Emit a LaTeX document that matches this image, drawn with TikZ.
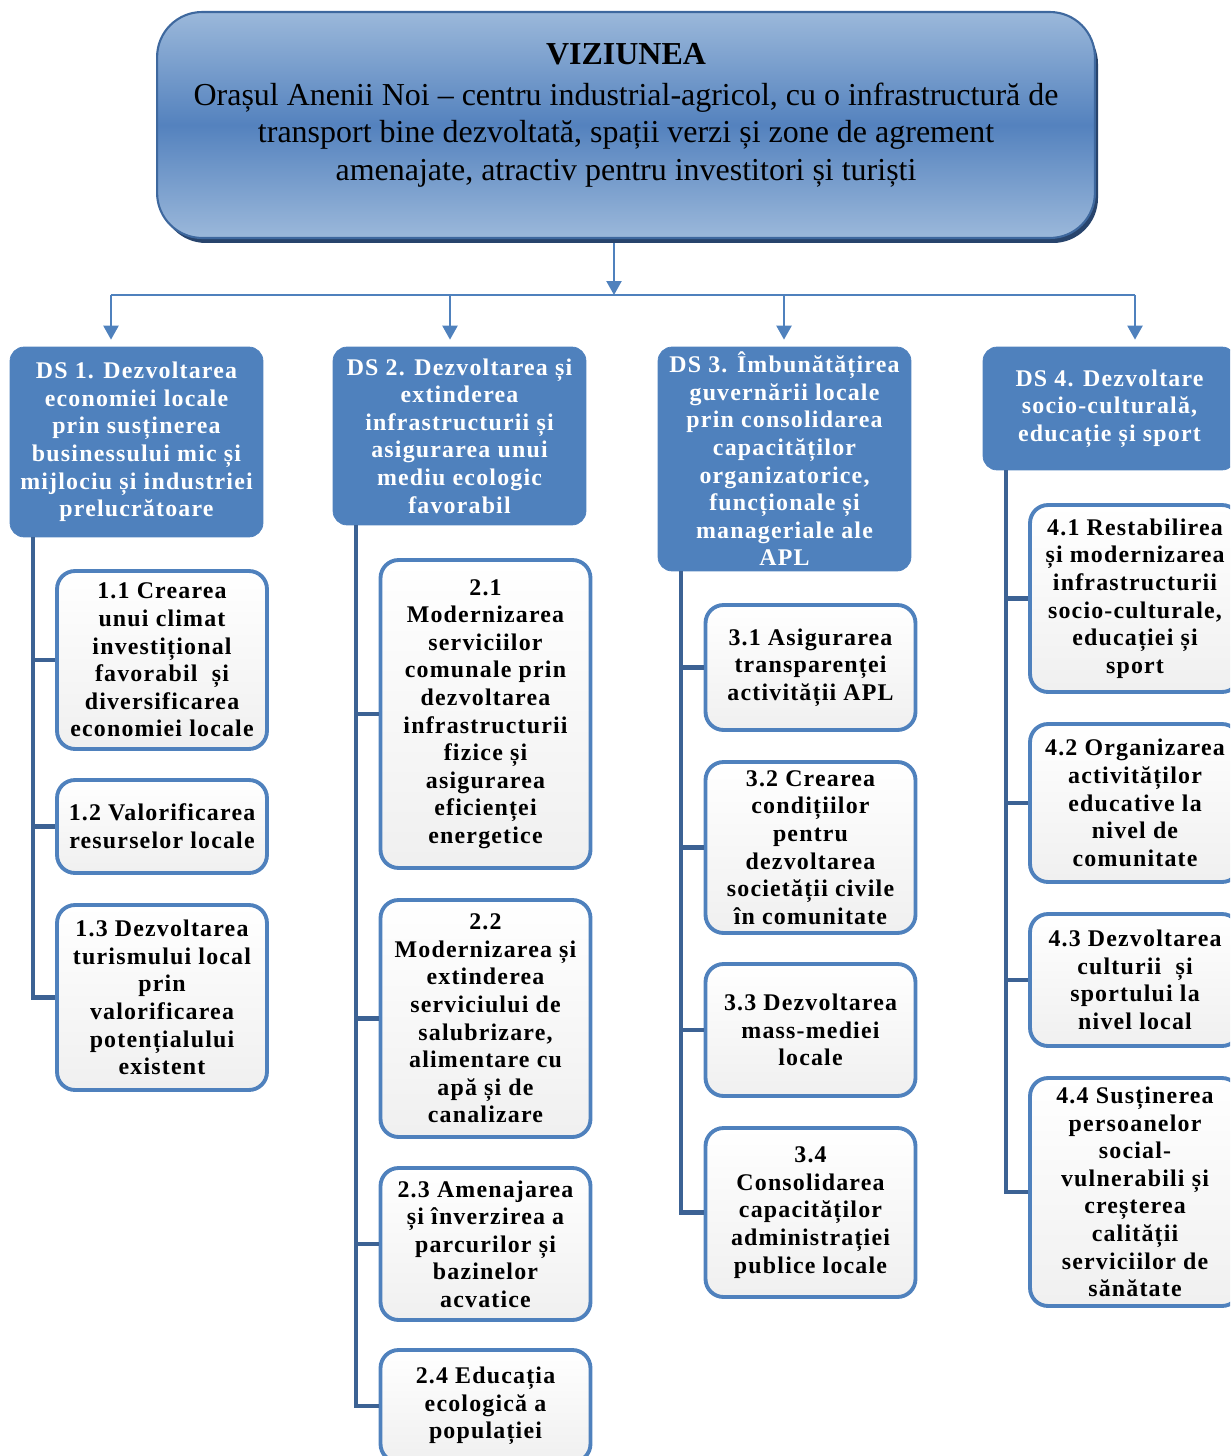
\documentclass[tikz,border=0pt]{standalone}
\usepackage{fontspec}
\setmainfont{Liberation Serif}
\newfontfamily\boxfont[LetterSpace=5]{Liberation Serif}
\usetikzlibrary{arrows.meta,positioning}
\definecolor{Steel}{RGB}{79,129,189}
\definecolor{Trunk}{RGB}{60,98,148}
\definecolor{Sky}{RGB}{155,184,218}
\definecolor{Deep}{RGB}{84,130,190}
\definecolor{Rim}{RGB}{62,104,158}
\definecolor{Shade}{RGB}{40,68,108}
\newcommand{\boxfs}{\fontsize{13.6}{15.7}\selectfont\boxfont\bfseries}
\tikzset{
  vbox/.style={rectangle,rounded corners=0.9cm,draw=Rim,line width=1.2pt,
               top color=Sky,bottom color=Sky,middle color=Deep,
               minimum width=18.76cm,minimum height=4.52cm},
  dsbox/.style={rectangle,rounded corners=0.28cm,fill=Steel,draw=Steel,
                text=white,font=\boxfs,align=center,minimum width=5.06cm,inner sep=2pt},
  obox/.style={rectangle,rounded corners=0.36cm,draw=Steel,line width=2.2pt,
               top color=white,bottom color=black!6,font=\boxfs,align=center,
               minimum width=4.2cm,inner sep=2pt},
  arr/.style={-{Triangle[width=0.3cm,length=0.28cm]},draw=Steel,line width=1.3pt},
  trunk/.style={draw=Trunk,line width=2.6pt},
}

\begin{document}
\begin{tikzpicture}[x=0.02cm,y=-0.02cm]
  \clip (0,0) rectangle (1230,1456);

  % vision
  \fill[Shade,rounded corners=0.9cm] (161,19) rectangle (1098,243);
  \node[vbox] (vision) at (626,125) {};
  \node[font=\fontsize{18.2}{21.3}\selectfont,align=center] (vtext) at (626,115)
    {\textbf{VIZIUNEA}\\[2pt]
     Orașul Anenii Noi – centru industrial-agricol, cu o infrastructură de\\
     transport bine dezvoltată, spații verzi și zone de agrement\\
     amenajate, atractiv pentru investitori și turiști};

  % directions
  \node[dsbox,minimum height=3.8cm] (ds1) at (136.5,442)
    {DS 1. Dezvoltarea\\economiei locale\\prin susținerea\\businessului mic și\\mijlociu și industriei\\prelucrătoare};
  \node[dsbox,minimum height=3.56cm] (ds2) at (459.5,436)
    {DS 2. Dezvoltarea și\\extinderea\\infrastructurii și\\asigurarea unui\\mediu ecologic\\favorabil};
  \node[dsbox,minimum height=4.48cm] (ds3) at (784.5,459)
    {DS 3. Îmbunătățirea\\guvernării locale\\prin consolidarea\\capacităților\\organizatorice,\\funcționale și\\manageriale ale\\APL};
  \node[dsbox,minimum height=2.46cm] (ds4) at (1109.5,408.5)
    {DS 4. Dezvoltare\\socio-culturală,\\educație și sport};

  % arrows
  \coordinate (hub) at (614,295);
  \coordinate (b1) at (111,295);
  \coordinate (b2) at (450,295);
  \coordinate (b3) at (784,295);
  \coordinate (b4) at (1135,295);
  \draw[arr] (vision.south -| hub) ++(0,4) -- (hub);
  \draw[Steel,line width=1.3pt] (b1) -- (b4);
  \foreach \i in {1,...,4}
    \draw[arr,shorten >=0.14cm] (b\i) -- (b\i |- ds\i.north);

  % objectives DS 1
  \node[obox,minimum height=3.56cm] (c11) at (162,660)
    {1.1 Crearea\\unui climat\\investițional\\favorabil \ și\\diversificarea\\economiei locale};
  \node[obox,minimum height=1.86cm] (c12) at (162,826.5)
    {1.2 Valorificarea\\resurselor locale};
  \node[obox,minimum height=3.7cm] (c13) at (162,997.5)
    {1.3 Dezvoltarea\\turismului local\\prin\\valorificarea\\potențialului\\existent};

  % objectives DS 2
  \node[obox,minimum height=6.16cm] (c21) at (485.5,714)
    {2.1\\Modernizarea\\serviciilor\\comunale prin\\dezvoltarea\\infrastructurii\\fizice și\\asigurarea\\eficienței\\energetice};
  \node[obox,minimum height=4.74cm] (c22) at (485.5,1018.5)
    {2.2\\Modernizarea și\\extinderea\\serviciului de\\salubrizare,\\alimentare cu\\apă și de\\canalizare};
  \node[obox,minimum height=3.04cm] (c23) at (485.5,1244)
    {2.3 Amenajarea\\și înverzirea a\\parcurilor și\\bazinelor\\acvatice};
  \node[obox,minimum height=2.24cm] (c24) at (485.5,1406)
    {2.4 Educația\\ecologică a\\populației};

  % objectives DS 3
  \node[obox,minimum height=2.5cm] (c31) at (810.5,667.5)
    {3.1 Asigurarea\\transparenței\\activității APL};
  \node[obox,minimum height=3.42cm] (c32) at (810.5,847.5)
    {3.2 Crearea\\condițiilor\\pentru\\dezvoltarea\\societății civile\\în comunitate};
  \node[obox,minimum height=2.64cm] (c33) at (810.5,1030)
    {3.3 Dezvoltarea\\mass-mediei\\locale};
  \node[obox,minimum height=3.38cm] (c34) at (810.5,1212.5)
    {3.4\\Consolidarea\\capacităților\\administrației\\publice locale};

  % objectives DS 4
  \node[obox,minimum height=3.74cm] (c41) at (1135,598.5)
    {4.1 Restabilirea\\și modernizarea\\infrastructurii\\socio-culturale,\\educației și\\sport};
  \node[obox,minimum height=3.16cm] (c42) at (1135,803)
    {4.2 Organizarea\\activităților\\educative la\\nivel de\\comunitate};
  \node[obox,minimum height=2.64cm] (c43) at (1135,980)
    {4.3 Dezvoltarea\\culturii \ și\\sportului la\\nivel local};
  \node[obox,minimum height=4.56cm] (c44) at (1135,1192)
    {4.4 Susținerea\\persoanelor\\social-\\vulnerabili și\\creșterea\\calității\\serviciilor de\\sănătate};

  % trunks
  \coordinate (k1) at (33,0);
  \coordinate (k2) at (356,0);
  \coordinate (k3) at (681,0);
  \coordinate (k4) at (1006,0);
  \draw[trunk] (k1 |- ds1.south) |- (c13.west);
  \draw[trunk] (k2 |- ds2.south) |- (c24.west);
  \draw[trunk] (k3 |- ds3.south) |- (c34.west);
  \draw[trunk] (k4 |- ds4.south) |- (c44.west);
  \foreach \c in {c11,c12}
    \draw[trunk] (k1 |- \c.west) -- (\c.west);
  \foreach \c in {c21,c22,c23}
    \draw[trunk] (k2 |- \c.west) -- (\c.west);
  \foreach \c in {c31,c32,c33}
    \draw[trunk] (k3 |- \c.west) -- (\c.west);
  \foreach \c in {c41,c42,c43}
    \draw[trunk] (k4 |- \c.west) -- (\c.west);
\end{tikzpicture}
\end{document}
